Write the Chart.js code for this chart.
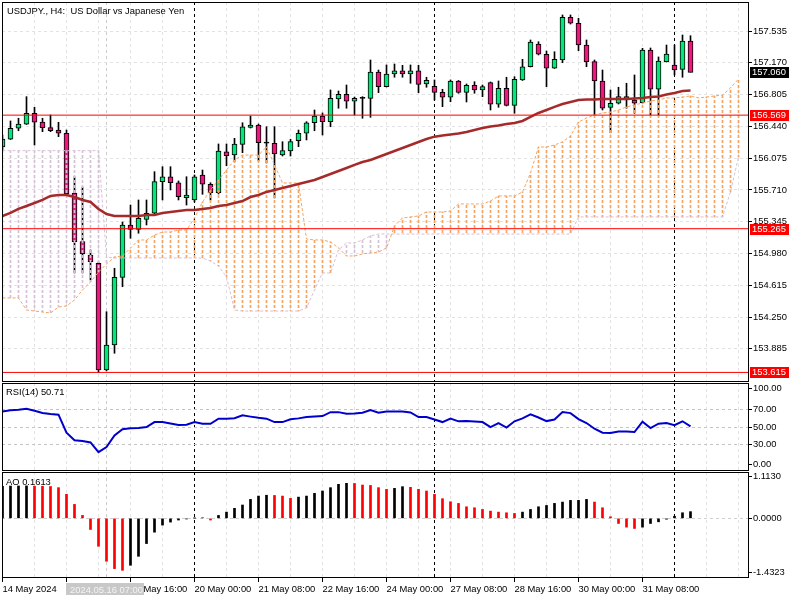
<!DOCTYPE html>
<html>
<head>
<meta charset="utf-8">
<script src="https://cdn.jsdelivr.net/npm/chart.js@4.4.1/dist/chart.umd.min.js"></script>
<style>
  html, body { margin: 0; padding: 0; background: #fff; }
  #wrap { position: relative; width: 800px; height: 600px; overflow: hidden; }
  canvas { position: absolute; left: 0; }
</style>
</head>
<body>
<div id="wrap">
  <canvas id="main" width="800" height="383" style="top:0"></canvas>
  <canvas id="rsi" width="800" height="89" style="top:383px"></canvas>
  <canvas id="ao" width="800" height="128" style="top:472px"></canvas>
</div>
<script>
// USDJPY H4, 14 May - 3 Jun 2024
const opens = [
  156.203, 156.292, 156.418, 156.464, 156.590, 156.490, 156.425, 156.398, 156.361, 155.675,
  155.116, 154.963, 154.868, 153.643, 153.930, 154.707, 155.308, 155.258, 155.373, 155.442,
  155.805, 155.862, 155.793, 155.621, 155.595, 155.882, 155.775, 155.679, 156.149, 156.111,
  156.234, 156.429, 156.456, 156.248, 156.246, 156.111, 156.157, 156.276, 156.361, 156.482,
  156.559, 156.494, 156.754, 156.808, 156.728, 156.762, 156.762, 157.064, 156.896, 157.041,
  157.079, 157.041, 157.079, 156.927, 156.900, 156.831, 156.774, 156.961, 156.831, 156.912,
  156.858, 156.942, 156.694, 156.877, 156.682, 156.973, 157.125, 157.386, 157.268, 157.107,
  157.202, 157.692, 157.624, 157.374, 157.183, 156.961, 156.659, 156.705, 156.781, 156.743,
  156.712, 157.317, 156.866, 157.183, 157.145, 157.095, 157.420
];
const highs = [
  156.341, 156.502, 156.533, 156.781, 156.659, 156.533, 156.571, 156.487, 156.398, 155.862,
  155.744, 155.021, 154.883, 154.312, 154.811, 155.342, 155.537, 155.595, 155.595, 155.920,
  155.977, 155.977, 155.813, 155.862, 155.882, 155.939, 155.793, 156.238, 156.238, 156.303,
  156.482, 156.559, 156.467, 156.436, 156.436, 156.264, 156.292, 156.398, 156.494, 156.628,
  156.594, 156.858, 156.846, 156.915, 156.777, 156.781, 157.202, 157.087, 157.145, 157.156,
  157.141, 157.145, 157.141, 157.004, 156.973, 156.866, 156.973, 156.967, 156.927, 156.953,
  156.915, 156.950, 156.961, 157.004, 157.010, 157.210, 157.432, 157.412, 157.305, 157.297,
  157.719, 157.719, 157.681, 157.432, 157.202, 157.087, 156.858, 156.889, 156.935, 157.030,
  157.336, 157.340, 157.237, 157.374, 157.374, 157.489, 157.481
];
const lows = [
  156.169, 156.289, 156.390, 156.462, 156.226, 156.379, 156.379, 156.322, 155.652, 154.757,
  154.757, 154.676, 153.615, 153.632, 153.835, 154.599, 155.155, 155.213, 155.308, 155.434,
  155.595, 155.710, 155.595, 155.537, 155.572, 155.660, 155.595, 155.664, 155.989, 156.034,
  156.138, 156.421, 156.043, 156.020, 155.618, 156.100, 156.100, 156.207, 156.284, 156.390,
  156.341, 156.436, 156.648, 156.648, 156.571, 156.533, 156.544, 156.827, 156.892, 157.004,
  157.004, 156.935, 156.827, 156.889, 156.743, 156.666, 156.723, 156.820, 156.720, 156.820,
  156.781, 156.628, 156.659, 156.674, 156.590, 156.967, 157.122, 157.260, 156.896, 157.105,
  157.171, 157.615, 157.309, 157.125, 156.571, 156.628, 156.367, 156.697, 156.648, 156.590,
  156.708, 156.571, 156.571, 157.179, 157.030, 157.004, 157.064
];
const closes = [
  156.295, 156.418, 156.467, 156.590, 156.487, 156.425, 156.390, 156.361, 155.664, 155.116,
  154.975, 154.886, 153.643, 153.930, 154.707, 155.308, 155.258, 155.385, 155.442, 155.805,
  155.862, 155.793, 155.633, 155.652, 155.862, 155.775, 155.679, 156.157, 156.103, 156.238,
  156.436, 156.456, 156.253, 156.248, 156.123, 156.161, 156.264, 156.361, 156.482, 156.559,
  156.494, 156.762, 156.808, 156.728, 156.762, 156.762, 157.064, 156.896, 157.041, 157.079,
  157.041, 157.079, 156.923, 156.969, 156.831, 156.774, 156.961, 156.831, 156.912, 156.858,
  156.896, 156.694, 156.877, 156.682, 156.981, 157.125, 157.409, 157.268, 157.107, 157.210,
  157.692, 157.624, 157.374, 157.183, 156.961, 156.648, 156.705, 156.781, 156.743, 156.705,
  157.317, 156.866, 157.191, 157.271, 157.087, 157.420, 157.060
];
const maValues = [
  155.411, 155.446, 155.492, 155.526, 155.560, 155.595, 155.641, 155.652, 155.652, 155.629,
  155.595, 155.572, 155.492, 155.434, 155.411, 155.411, 155.411, 155.411, 155.423, 155.423,
  155.446, 155.457, 155.469, 155.480, 155.480, 155.492, 155.503, 155.526, 155.537, 155.560,
  155.583, 155.629, 155.652, 155.687, 155.710, 155.733, 155.756, 155.778, 155.801, 155.824,
  155.859, 155.893, 155.928, 155.962, 155.997, 156.031, 156.054, 156.088, 156.123, 156.157,
  156.192, 156.226, 156.261, 156.295, 156.322, 156.335, 156.347, 156.358, 156.376, 156.398,
  156.421, 156.439, 156.450, 156.467, 156.479, 156.502, 156.548, 156.594, 156.628, 156.663,
  156.697, 156.720, 156.743, 156.749, 156.749, 156.754, 156.754, 156.754, 156.754, 156.760,
  156.766, 156.777, 156.783, 156.806, 156.823, 156.846, 156.852
];
// Ichimoku senkou spans (shifted 26 bars ahead, so 93 values)
const spanA = [
  154.470, 154.470, 154.470, 154.332, 154.320, 154.309, 154.297, 154.366, 154.378, 154.447,
  154.562, 154.653, 154.768, 154.860, 154.940, 154.952, 155.044, 155.136, 155.136, 155.193,
  155.227, 155.227, 155.250, 155.250, 155.388, 155.572, 155.710, 155.824, 155.939, 156.054,
  156.111, 156.111, 156.111, 156.203, 155.997, 155.790, 155.790, 155.790, 155.147, 155.136,
  155.136, 155.113, 155.044, 154.952, 154.952, 154.975, 154.986, 154.998, 155.044, 155.296,
  155.388, 155.400, 155.411, 155.457, 155.457, 155.457, 155.469, 155.549, 155.549, 155.549,
  155.549, 155.583, 155.641, 155.641, 155.641, 155.687, 155.905, 156.203, 156.203, 156.226,
  156.261, 156.330, 156.490, 156.536, 156.571, 156.594, 156.605, 156.628, 156.663, 156.686,
  156.708, 156.731, 156.743, 156.766, 156.766, 156.777, 156.789, 156.766, 156.777, 156.789,
  156.800, 156.881, 156.984
];
const spanB = [
  156.161, 156.161, 156.161, 156.161, 156.161, 156.161, 156.161, 156.161, 156.161, 156.161,
  156.161, 156.161, 156.161, 154.940, 154.929, 154.929, 154.929, 154.929, 154.929, 154.929,
  154.929, 154.929, 154.929, 154.929, 154.929, 154.929, 154.894, 154.837, 154.711, 154.332,
  154.320, 154.320, 154.320, 154.320, 154.320, 154.320, 154.320, 154.320, 154.355, 154.562,
  154.757, 154.757, 155.021, 155.101, 155.101, 155.136, 155.182, 155.204, 155.204, 155.204,
  155.204, 155.204, 155.204, 155.204, 155.204, 155.204, 155.204, 155.204, 155.204, 155.204,
  155.204, 155.204, 155.204, 155.204, 155.204, 155.204, 155.204, 155.204, 155.204, 155.204,
  155.204, 155.204, 155.400, 155.400, 155.400, 155.400, 155.400, 155.400, 155.400, 155.400,
  155.400, 155.400, 155.400, 155.400, 155.400, 155.400, 155.400, 155.400, 155.400, 155.400,
  155.400, 155.687, 156.088
];
const rsiValues = [
  67.7, 68.9, 69.6, 70.8, 68.5, 66.0, 64.7, 64.0, 43.6, 35.0,
  34.2, 32.5, 21.5, 27.3, 40.5, 47.5, 48.6, 49.0, 49.9, 55.6,
  55.6, 54.0, 52.2, 52.5, 55.6, 53.8, 53.6, 59.5, 59.5, 60.0,
  63.2, 61.8, 60.5, 59.5, 55.6, 55.6, 58.7, 59.8, 61.3, 62.0,
  62.4, 66.9, 66.9, 65.1, 65.3, 66.2, 69.2, 66.2, 67.7, 67.7,
  67.5, 66.5, 61.3, 61.3, 58.5, 55.6, 59.5, 56.4, 56.7, 56.2,
  55.6, 49.9, 54.5, 49.3, 56.5, 59.8, 64.3, 60.8, 56.7, 58.5,
  66.9, 65.8, 59.0, 54.5, 48.0, 43.5, 43.1, 45.0, 44.8, 44.3,
  56.0, 48.8, 53.8, 54.5, 52.0, 56.5, 50.71
];
const aoValues = [
  0.770, 0.776, 0.778, 0.780, 0.772, 0.770, 0.765, 0.737, 0.576, 0.335,
  0.070, -0.267, -0.670, -1.030, -1.207, -1.248, -1.127, -0.911, -0.605, -0.332,
  -0.162, -0.090, -0.040, -0.015, 0.005, 0.012, -0.040, 0.070, 0.150, 0.240,
  0.320, 0.455, 0.535, 0.555, 0.550, 0.535, 0.480, 0.510, 0.535, 0.600,
  0.656, 0.737, 0.817, 0.841, 0.838, 0.800, 0.790, 0.737, 0.696, 0.720,
  0.761, 0.745, 0.697, 0.656, 0.576, 0.472, 0.399, 0.359, 0.278, 0.254,
  0.214, 0.174, 0.150, 0.134, 0.118, 0.150, 0.214, 0.278, 0.310, 0.359,
  0.391, 0.431, 0.432, 0.455, 0.391, 0.254, 0.038, -0.123, -0.211, -0.243,
  -0.211, -0.123, -0.083, -0.020, 0.050, 0.134, 0.1613
];
const timeLabels = ['14 May 2024', '15 May 08:00', '16 May 16:00', '20 May 00:00', '21 May 08:00',
  '22 May 16:00', '24 May 00:00', '27 May 08:00', '28 May 16:00', '30 May 00:00', '31 May 08:00'];
const priceTicks = [153.885, 154.250, 154.615, 154.980, 155.345, 155.710, 156.075, 156.440, 156.805, 157.170, 157.535];
const levels = [156.569, 155.265, 153.615];
const rsiLevels = [0, 30, 50, 70, 100];
const aoLevels = [-1.4323, 0, 1.1130];
const weekStarts = [24, 54, 84];
const cursorBar = 13;
const cursorText = '2024.05.16 07:00';

const FONT = "'Liberation Sans', Arial, sans-serif";
const FSIZE = 9.4;
Chart.defaults.font.family = FONT;
Chart.defaults.font.size = FSIZE;
Chart.defaults.color = '#000';

const X_MIN = -0.0625, X_MAX = 93.1875;
const GRID = '#e2e2e2';
const BULL = '#00e87a', BEAR = '#f0167e';

const gridBars = [];
for (let k = 0; k <= 92; k += 4) gridBars.push(k);
gridBars.push(cursorBar, 54);
gridBars.sort((a, b) => a - b);

function vLineColor(v) {
  if (weekStarts.includes(v)) return '#000';
  if (v === cursorBar) return '#cccccc';
  return GRID;
}

function xAxis(withLabels) {
  return {
    type: 'linear', min: X_MIN, max: X_MAX, offset: false,
    afterBuildTicks: s => { s.ticks = gridBars.map(v => ({ value: v })); },
    afterFit: s => { s.height = withLabels ? 22 : 0; s.paddingLeft = 0; s.paddingRight = 0; },
    ticks: {
      display: withLabels, autoSkip: false, maxRotation: 0, minRotation: 0, align: 'start', padding: 2,
      callback: v => (v % 8 === 0 && v / 8 < timeLabels.length) ? timeLabels[v / 8] : ''
    },
    grid: {
      offset: false, color: c => vLineColor(c.tick.value), drawTicks: withLabels, tickLength: 4,
      tickColor: c => (c.tick.value % 8 === 0 && c.tick.value / 8 < timeLabels.length) ? '#000' : 'rgba(0,0,0,0)'
    },
    border: { display: false, dash: [3, 3] }
  };
}

function yAxis(min, max, tickPos, label, gridColor) {
  return {
    position: 'right', min, max, beginAtZero: false,
    afterBuildTicks: s => { s.ticks = tickPos.map(v => ({ value: v })); },
    afterFit: s => { s.width = 52; s.paddingTop = 0; s.paddingBottom = 0; },
    ticks: { padding: 1, callback: (v, i) => label(i) },
    grid: { color: gridColor, tickLength: 4, tickColor: '#000' },
    border: { display: false, dash: [3, 3] }
  };
}

const frame = {
  id: 'frame',
  afterDraw(chart) {
    const { ctx, chartArea: a } = chart;
    ctx.save();
    ctx.strokeStyle = '#000';
    ctx.lineWidth = 1;
    ctx.strokeRect(Math.round(a.left) + 0.5, Math.round(a.top) + 0.5,
      Math.round(a.right - a.left), Math.round(a.bottom - a.top) - 1);
    ctx.restore();
  }
};

function caption(text, x, y) {
  return {
    id: 'caption',
    afterDraw(chart) {
      const ctx = chart.ctx;
      ctx.save();
      ctx.font = FSIZE + 'px ' + FONT;
      ctx.fillStyle = '#000';
      ctx.textBaseline = 'alphabetic';
      ctx.fillText(text, x, y);
      ctx.restore();
    }
  };
}

const priceTags = {
  id: 'priceTags',
  afterDraw(chart) {
    const { ctx } = chart;
    const ys = chart.scales.y;
    const tag = (v, bg) => {
      const py = Math.round(ys.getPixelForValue(v));
      ctx.fillStyle = bg;
      ctx.fillRect(750, py - 5, 39, 11);
      ctx.fillStyle = '#fff';
      ctx.fillText(v.toFixed(3), 752, py + 0.5);
    };
    ctx.save();
    ctx.font = FSIZE + 'px ' + FONT;
    ctx.textBaseline = 'middle';
    ctx.textAlign = 'left';
    levels.forEach(v => tag(v, '#ff0000'));
    tag(closes[closes.length - 1], '#000');
    ctx.restore();
  }
};

const cursorTag = {
  id: 'cursorTag',
  afterDraw(chart) {
    const { ctx } = chart;
    const x = Math.round(chart.scales.x.getPixelForValue(cursorBar - 5)) - 1;
    ctx.save();
    ctx.fillStyle = '#c8c8c8';
    ctx.fillRect(x, 111, 78, 12);
    ctx.font = FSIZE + 'px ' + FONT;
    ctx.fillStyle = '#f4f4f4';
    ctx.textBaseline = 'alphabetic';
    ctx.fillText(cursorText, x + 4, 120.5);
    ctx.restore();
  }
};

function dashPattern(color) {
  const c = document.createElement('canvas');
  c.width = 1; c.height = 5;
  const g = c.getContext('2d');
  g.fillStyle = color;
  g.fillRect(0, 0, 1, 3);
  return document.getElementById('main').getContext('2d').createPattern(c, 'repeat');
}
const cloudUp = dashPattern('#f4a460');
const cloudDown = dashPattern('#d8bfd8');

const idx = arr => arr.map((v, i) => ({ x: i, y: v }));

// main price pane
new Chart(document.getElementById('main'), {
  type: 'bar',
  data: {
    datasets: [
      ...levels.map(v => ({
        type: 'line', order: 0, data: [{ x: X_MIN, y: v }, { x: X_MAX, y: v }],
        borderColor: '#ff0000', borderWidth: 1, pointRadius: 0
      })),
      { type: 'line', order: 1, data: idx(maValues), borderColor: '#a52a2a', borderWidth: 2.5, pointRadius: 0 },
      { type: 'line', order: 2, data: idx(spanA), borderColor: '#f4a460', borderWidth: 1, borderDash: [3, 2], pointRadius: 0 },
      { type: 'line', order: 3, data: idx(spanB), borderColor: '#d8bfd8', borderWidth: 1, borderDash: [3, 2], pointRadius: 0 },
      {
        order: 4, grouped: false, barThickness: 1, borderWidth: 0,
        data: spanA.map((a, i) => ({ x: i, y: [a, spanB[i]] })),
        backgroundColor: c => spanA[c.dataIndex] >= spanB[c.dataIndex] ? cloudUp : cloudDown
      },
      {
        order: 5, grouped: false, barThickness: 5, borderWidth: 1, borderColor: '#000', borderSkipped: false, minBarLength: 1,
        data: opens.map((o, i) => ({ x: i, y: [o, closes[i]] })),
        backgroundColor: c => {
          const o = opens[c.dataIndex], cl = closes[c.dataIndex];
          return cl > o ? BULL : cl < o ? BEAR : '#000';
        }
      },
      {
        order: 6, grouped: false, barThickness: 1, borderWidth: 0, backgroundColor: '#000',
        data: lows.map((l, i) => ({ x: i, y: [l, highs[i]] }))
      }
    ]
  },
  options: {
    responsive: false, animation: false, events: [],
    layout: { padding: { left: 2, top: 2, bottom: 1, right: 0 } },
    plugins: { legend: { display: false }, tooltip: { enabled: false } },
    scales: {
      x: xAxis(false),
      y: yAxis(153.505, 157.868, priceTicks, i => priceTicks[i].toFixed(3), GRID)
    }
  },
  plugins: [frame, caption('USDJPY., H4:  US Dollar vs Japanese Yen', 7, 13.5), priceTags]
});

// RSI pane
new Chart(document.getElementById('rsi'), {
  type: 'line',
  data: {
    datasets: [{ data: idx(rsiValues), borderColor: '#0000cd', borderWidth: 2, pointRadius: 0 }]
  },
  options: {
    responsive: false, animation: false, events: [],
    layout: { padding: { left: 2, top: 0, bottom: 1, right: 0 } },
    plugins: { legend: { display: false }, tooltip: { enabled: false } },
    scales: {
      x: xAxis(false),
      y: yAxis(0, 100, rsiLevels.map(v => v === 100 ? 93.3 : v === 0 ? 7 : v),
        i => rsiLevels[i].toFixed(2),
        c => [30, 50, 70].includes(c.tick.value) ? '#c4c4c4' : 'rgba(0,0,0,0)')
    }
  },
  plugins: [frame, caption('RSI(14) ' + rsiValues[rsiValues.length - 1].toFixed(2), 6, 12)]
});

// Awesome Oscillator pane
new Chart(document.getElementById('ao'), {
  type: 'bar',
  data: {
    datasets: [{
      data: idx(aoValues), barThickness: 2, borderWidth: 0,
      backgroundColor: c => (c.dataIndex > 0 && aoValues[c.dataIndex] < aoValues[c.dataIndex - 1]) ? '#ff0000' : '#000'
    }]
  },
  options: {
    responsive: false, animation: false, events: [],
    layout: { padding: { left: 2, top: 0, bottom: 0, right: 0 } },
    plugins: { legend: { display: false }, tooltip: { enabled: false } },
    scales: {
      x: xAxis(true),
      y: yAxis(aoLevels[0], aoLevels[2], [-1.31, 0, 1.0],
        i => aoLevels[i].toFixed(4),
        c => c.tick.value === 0 ? '#cfcfcf' : 'rgba(0,0,0,0)')
    }
  },
  plugins: [frame, caption('AO ' + aoValues[aoValues.length - 1].toFixed(4), 6, 13), cursorTag]
});
</script>
</body>
</html>
